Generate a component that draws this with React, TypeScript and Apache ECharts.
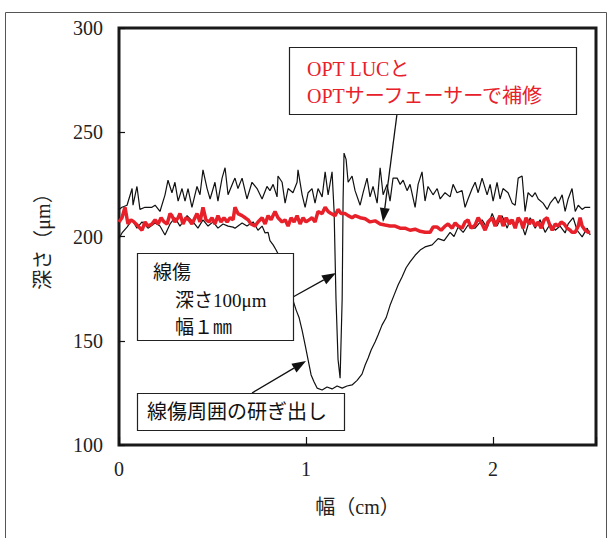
import React, { useEffect, useRef } from "react";
import * as echarts from "echarts";

// ---- data (x in cm, depth in µm) ----
const xTickValues = [0, 1, 2];
const yTickValues = [100, 150, 200, 250, 300];

// 線傷 profile (upper black line, with the narrow scratch)
const scratchX = [0, 0.016, 0.043, 0.07, 0.075, 0.096, 0.112, 0.139, 0.176, 0.193, 0.219, 0.246, 0.262, 0.283, 0.299, 0.316, 0.337, 0.353, 0.369, 0.39, 0.417, 0.433, 0.449, 0.471, 0.487, 0.513, 0.529, 0.551, 0.567, 0.583, 0.61, 0.62, 0.636, 0.658, 0.684, 0.711, 0.738, 0.765, 0.791, 0.807, 0.824, 0.845, 0.85, 0.872, 0.888, 0.904, 0.93, 0.952, 0.957, 0.979, 0.995, 1.011, 1.032, 1.048, 1.064, 1.086, 1.102, 1.118, 1.139, 1.15, 1.16, 1.171, 1.182, 1.193, 1.198, 1.203, 1.214, 1.225, 1.246, 1.262, 1.289, 1.305, 1.326, 1.342, 1.358, 1.38, 1.396, 1.412, 1.433, 1.449, 1.465, 1.487, 1.503, 1.519, 1.54, 1.556, 1.583, 1.599, 1.62, 1.636, 1.652, 1.679, 1.701, 1.717, 1.743, 1.77, 1.786, 1.807, 1.834, 1.85, 1.866, 1.888, 1.904, 1.92, 1.941, 1.968, 1.984, 2.0, 2.021, 2.037, 2.053, 2.08, 2.102, 2.118, 2.134, 2.155, 2.171, 2.187, 2.209, 2.225, 2.241, 2.267, 2.289, 2.305, 2.332, 2.348, 2.369, 2.385, 2.401, 2.422, 2.439, 2.455, 2.476, 2.492, 2.519];
const scratchY = [213, 214, 215, 223, 215, 224, 213, 214, 214, 215, 212, 220, 227, 221, 226, 217, 223, 217, 223, 214, 224, 220, 232, 223, 218, 226, 217, 228, 233, 220, 226, 228, 223, 228, 218, 226, 223, 218, 224, 222, 225, 219, 229, 226, 216, 223, 221, 226, 232, 220, 214, 221, 223, 216, 223, 219, 231, 220, 231, 212, 170, 141, 132, 170, 218, 240, 237, 226, 229, 222, 215, 221, 228, 219, 224, 216, 233, 220, 225, 217, 228, 228, 225, 227, 222, 225, 214, 225, 231, 217, 224, 220, 223, 218, 221, 219, 225, 221, 222, 214, 218, 223, 226, 221, 228, 220, 225, 217, 226, 218, 223, 221, 216, 215, 228, 229, 212, 221, 219, 221, 218, 216, 213, 216, 219, 216, 220, 212, 218, 223, 212, 215, 213, 214, 214];

// 線傷周囲の研ぎ出し profile (lower black line)
const groundX = [0, 0.016, 0.043, 0.07, 0.096, 0.123, 0.155, 0.193, 0.219, 0.246, 0.273, 0.299, 0.326, 0.364, 0.396, 0.422, 0.449, 0.476, 0.503, 0.529, 0.556, 0.583, 0.61, 0.62, 0.658, 0.684, 0.717, 0.743, 0.765, 0.781, 0.797, 0.807, 0.824, 0.84, 0.872, 0.904, 0.93, 0.947, 0.963, 0.979, 0.995, 1.011, 1.027, 1.043, 1.059, 1.086, 1.112, 1.139, 1.166, 1.193, 1.219, 1.246, 1.273, 1.299, 1.316, 1.332, 1.348, 1.369, 1.385, 1.406, 1.428, 1.449, 1.471, 1.492, 1.513, 1.535, 1.556, 1.583, 1.61, 1.636, 1.674, 1.706, 1.738, 1.77, 1.791, 1.813, 1.84, 1.866, 1.888, 1.904, 1.941, 1.968, 1.995, 2.021, 2.048, 2.075, 2.091, 2.118, 2.144, 2.171, 2.198, 2.225, 2.251, 2.278, 2.305, 2.332, 2.358, 2.385, 2.401, 2.428, 2.449, 2.476, 2.503, 2.519];
const groundY = [199, 201.7, 204.5, 208, 204, 207, 204, 206.5, 205, 200.7, 206, 209, 205, 210, 207, 204, 208, 205, 207, 204, 206, 205, 204.5, 204, 206.5, 205, 207, 203, 205, 201.7, 202, 198, 196, 193.5, 187.8, 179, 169.5, 164.7, 161, 155, 148, 140.8, 133.6, 130.2, 127.3, 126.4, 127.8, 126.9, 128.3, 127.3, 128.3, 128.8, 131, 134, 138.4, 141.7, 145.6, 149.4, 152.8, 157.5, 161, 167, 172, 176.7, 180.6, 185, 187.8, 191, 193.5, 195, 196, 199, 198, 202, 200, 204.5, 202, 205.5, 204, 204, 208, 204, 211, 205, 210, 204, 208, 205, 208, 200.7, 209, 204, 208, 202, 206, 203, 205, 201.7, 206, 209, 203, 199.8, 204, 200.7];

// 補修後 profile (red line)
const repairX = [0, 0.016, 0.032, 0.048, 0.064, 0.08, 0.102, 0.123, 0.139, 0.155, 0.176, 0.193, 0.209, 0.225, 0.241, 0.257, 0.273, 0.283, 0.299, 0.316, 0.326, 0.342, 0.358, 0.374, 0.39, 0.406, 0.417, 0.433, 0.449, 0.465, 0.481, 0.497, 0.513, 0.529, 0.545, 0.561, 0.578, 0.594, 0.61, 0.62, 0.636, 0.658, 0.674, 0.69, 0.706, 0.727, 0.743, 0.765, 0.781, 0.797, 0.813, 0.834, 0.85, 0.872, 0.888, 0.904, 0.92, 0.936, 0.952, 0.968, 0.984, 1.0, 1.016, 1.032, 1.048, 1.064, 1.086, 1.102, 1.118, 1.134, 1.155, 1.171, 1.187, 1.209, 1.225, 1.246, 1.262, 1.289, 1.316, 1.342, 1.369, 1.396, 1.422, 1.449, 1.476, 1.503, 1.529, 1.556, 1.583, 1.61, 1.636, 1.663, 1.679, 1.701, 1.722, 1.743, 1.759, 1.781, 1.797, 1.813, 1.834, 1.85, 1.866, 1.882, 1.904, 1.92, 1.941, 1.957, 1.973, 1.995, 2.011, 2.027, 2.037, 2.053, 2.07, 2.086, 2.102, 2.118, 2.134, 2.15, 2.16, 2.176, 2.193, 2.209, 2.225, 2.241, 2.257, 2.273, 2.289, 2.305, 2.316, 2.332, 2.348, 2.364, 2.38, 2.396, 2.412, 2.422, 2.439, 2.455, 2.465, 2.476, 2.492, 2.508, 2.519];
const repairY = [207, 209, 214, 206, 208, 207, 205, 203, 207, 205, 206, 208, 206, 209, 207, 206, 211, 210, 207, 209, 211, 206, 209, 208, 206, 209, 211, 207, 214, 208, 207, 209, 206, 210, 207, 209, 207, 209, 208, 214, 211, 210, 209, 208, 206, 205, 207, 209, 206, 210, 208, 212, 209, 207, 208, 205, 209, 207, 210, 206, 209, 207, 208, 209, 207, 212, 211, 214, 212, 211, 210, 213, 211, 211, 210, 209, 210, 209, 208.5, 207, 207.5, 206, 205.5, 205, 205, 204, 204, 203, 203.5, 202.5, 202, 202, 204.5, 204.5, 203, 205, 206, 204, 206.5, 205, 204, 207, 208, 204, 205.5, 209, 206, 203, 207, 209, 205, 208, 210, 205, 209, 206, 208, 204, 209, 207, 204, 209, 206, 208, 205, 207, 204, 208, 209, 205, 203, 206, 205, 207, 206, 204, 203, 202, 202, 205, 209, 205, 203, 202, 202];

const SERIF = '"Liberation Serif", "Noto Sans CJK JP", serif';
const RED = "#e8202a";

const pairs = (xs: number[], ys: number[]) => xs.map((x, i) => [x, ys[i]]);

function arrow(x1: number, y1: number, x2: number, y2: number, len = 14, hw = 5) {
  const dx = x2 - x1;
  const dy = y2 - y1;
  const d = Math.hypot(dx, dy);
  const ux = dx / d;
  const uy = dy / d;
  const bx = x2 - ux * len;
  const by = y2 - uy * len;
  const nx = -uy;
  const ny = ux;
  return [
    {
      type: "line",
      z: 100,
      shape: { x1, y1, x2: bx, y2: by },
      style: { stroke: "#111", lineWidth: 1.3 },
    },
    {
      type: "polygon",
      z: 100,
      shape: {
        points: [
          [x2, y2],
          [bx + nx * hw, by + ny * hw],
          [bx - nx * hw, by - ny * hw],
        ],
      },
      style: { fill: "#111" },
    },
  ];
}

function box(x: number, y: number, w: number, h: number) {
  return {
    type: "rect",
    z: 100,
    shape: { x: x + 0.5, y: y + 0.5, width: w, height: h },
    style: { fill: "#fff", stroke: "#222", lineWidth: 1.2 },
  };
}

function label(text: string, x: number, y: number, size: number, color = "#111") {
  return {
    type: "text",
    z: 101,
    x,
    y,
    style: {
      text,
      fill: color,
      font: `${size}px ${SERIF}`,
      verticalAlign: "middle",
      align: "left",
    },
  };
}

export default function App() {
  const ref = useRef<HTMLDivElement>(null);
  useEffect(() => {
    if (!ref.current) return;
    const chart = echarts.init(ref.current, undefined, { renderer: "svg" });
    chart.setOption({
      animation: false,
      backgroundColor: "#fff",
      grid: {
        left: 119,
        right: 16,
        top: 28,
        bottom: 93,
        show: true,
        borderColor: "#1a1a1a",
        borderWidth: 3,
        backgroundColor: "transparent",
      },
      xAxis: {
        type: "value",
        min: 0,
        max: 2.55,
        interval: 1,
        name: "幅（cm）",
        nameLocation: "middle",
        nameGap: 52,
        nameTextStyle: { fontFamily: SERIF, fontSize: 20, color: "#222" },
        axisLine: { show: false },
        splitLine: { show: false },
        axisTick: { show: true, inside: true, length: 8, lineStyle: { color: "#111", width: 1.2 } },
        axisLabel: {
          margin: 14,
          fontFamily: SERIF,
          fontSize: 20,
          color: "#222",
          formatter: (v: number) => (xTickValues.includes(v) ? String(v) : ""),
        },
      },
      yAxis: {
        type: "value",
        min: yTickValues[0],
        max: yTickValues[yTickValues.length - 1],
        interval: 50,
        name: "深さ（μm）",
        nameLocation: "middle",
        nameGap: 66,
        nameRotate: 90,
        nameTextStyle: { fontFamily: SERIF, fontSize: 20, color: "#222" },
        axisLine: { show: false },
        splitLine: { show: false },
        axisTick: { show: true, inside: true, length: 6, lineStyle: { color: "#111", width: 1.2 } },
        axisLabel: { margin: 16, fontFamily: SERIF, fontSize: 20, color: "#222" },
      },
      series: [
        {
          type: "line",
          data: pairs(scratchX, scratchY),
          symbol: "none",
          lineStyle: { color: "#111", width: 1.2 },
          z: 2,
        },
        {
          type: "line",
          data: pairs(groundX, groundY),
          symbol: "none",
          lineStyle: { color: "#111", width: 1.2 },
          z: 2,
        },
        {
          type: "line",
          data: pairs(repairX, repairY),
          symbol: "none",
          lineStyle: { color: RED, width: 3.5 },
          z: 3,
        },
      ],
      graphic: [
        {
          type: "rect",
          z: 50,
          silent: true,
          shape: { x: 5.5, y: 12.5, width: 601, height: 545 },
          style: { fill: "none", stroke: "#555", lineWidth: 1 },
        },
        ...arrow(397, 114, 383, 222),
        ...arrow(293, 297, 336, 273),
        ...arrow(252, 393, 306, 361),
        box(289, 47, 287, 67),
        label("OPT LUCと", 307, 69, 20, RED),
        label("OPTサーフェーサーで補修", 307, 96, 20, RED),
        box(137, 253, 156, 87),
        label("線傷", 153, 272, 19),
        label("深さ100μm", 175, 300, 19),
        label("幅１㎜", 175, 327, 19),
        box(137, 393, 207, 37),
        label("線傷周囲の研ぎ出し", 147, 412, 20),
      ],
    });
    return () => chart.dispose();
  }, []);
  return (
    <div
      ref={ref}
      style={{ position: "fixed", left: 0, top: 0, width: 612, height: 538 }}
    />
  );
}
